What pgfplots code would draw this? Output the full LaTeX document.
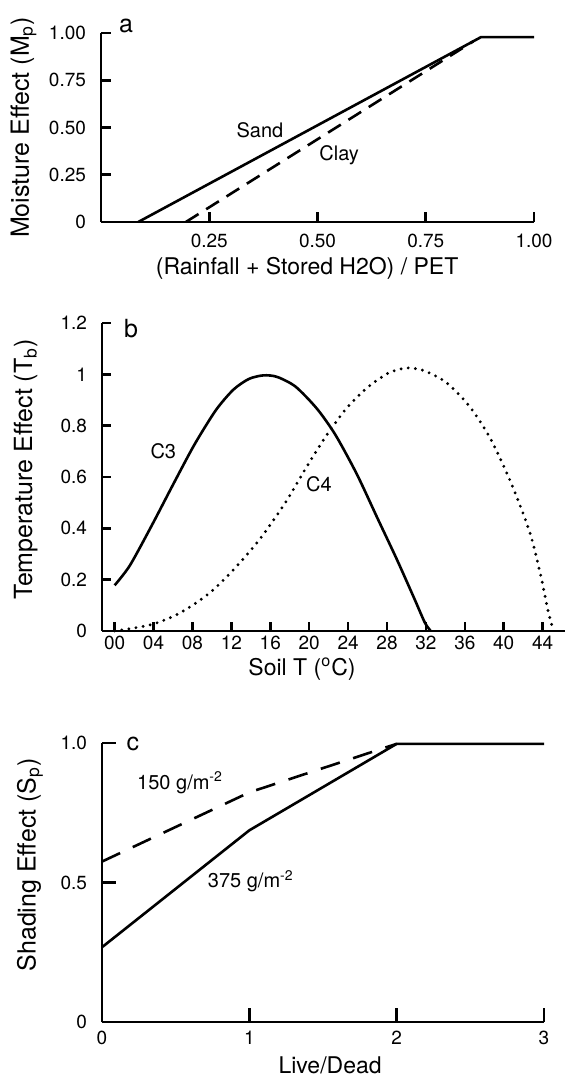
\documentclass[border=0pt]{standalone}
\usepackage{fontspec}
\setmainfont{TeX Gyre Heros}
\usepackage{pgfplots}
\pgfplotsset{compat=1.18}
\pgfplotsset{
  panel/.style={
    scale only axis,
    axis x line=bottom, axis y line=left,
    axis line style={-, line width=1.3pt},
    tick align=inside,
    tick style={black, line width=1.3pt},
    xtick pos=bottom, ytick pos=left,
    tick label style={font=\fontsize{9.5}{11}\selectfont},
    ylabel style={font=\fontsize{12.5}{14}\selectfont},
    xlabel style={font=\fontsize{11.5}{14}\selectfont, inner sep=0pt},
    yticklabel style={xshift=-4pt},
    clip=false,
    anchor=south west,
  },
}
\tikzset{
  lbl/.style={font=\fontsize{10}{12}\selectfont},
  plbl/.style={font=\fontsize{12.5}{14}\selectfont},
}
\begin{document}
\begin{tikzpicture}
\useasboundingbox (0,0) rectangle (282.5pt,538pt);
% ---------------- panel a
\begin{axis}[panel,
  at={(50.5pt,427pt)}, width=216.5pt, height=94.5pt,
  xmin=0, xmax=1, ymin=0, ymax=1,
  major tick length=5pt,
  xtick={0.25,0.5,0.75,1}, xticklabels={0.25,0.50,0.75,1.00},
  ytick={0,0.25,0.5,0.75,1}, yticklabels={0,0.25,0.50,0.75,1.00},
  xticklabel style={yshift=-2.3pt},
  xlabel={(Rainfall + Stored H2O) / PET},
  ylabel={Moisture Effect (M\textsubscript{p})},
  xlabel style={at={(axis description cs:0.476,0)}, anchor=center, yshift=-23pt},
  ylabel style={at={(axis description cs:-0.179,0.5)}, anchor=center},
]
\addplot[black, line width=1.3pt] coordinates {(0.086,0) (0.8775,0.978) (1.0,0.978)};
\addplot[black, line width=1.3pt, dash pattern=on 7.5pt off 4.5pt] coordinates {(0.196,0) (0.86,0.956)};
\node[plbl] at (axis cs:0.058,1.037) {a};
\node[lbl] at (axis cs:0.367,0.483) {Sand};
\node[lbl] at (axis cs:0.55,0.355) {Clay};
\end{axis}
% ---------------- panel b
\begin{axis}[panel,
  at={(51pt,222.5pt)}, width=231.5pt, height=154pt,
  xmin=-1.3, xmax=46.3, ymin=0, ymax=1.2,
  major tick length=4.5pt,
  xtick={0,4,8,12,16,20,24,28,32,36,40,44},
  xticklabels={00,04,08,12,16,20,24,28,32,36,40,44},
  xticklabel style={inner sep=2.5pt},
  ytick={0,0.2,0.4,0.6,0.8,1,1.2}, yticklabels={0,0.2,0.4,0.6,0.8,1,1.2},
  xlabel={Soil T (\textsuperscript{o}C)},
  ylabel={Temperature Effect (T\textsubscript{b})},
  xlabel style={at={(axis description cs:0.432,0)}, anchor=center, yshift=-19pt},
  ylabel style={at={(axis description cs:-0.165,0.524)}, anchor=center},
]
\addplot[black, line width=1.3pt, smooth, tension=0.45] coordinates {
(0,0.178) (1.56,0.255) (3.8,0.41) (6.0,0.57) (8.2,0.726) (10.4,0.86) (12.2,0.94) (13.8,0.982)
(15.3,0.996) (16.7,0.99) (18.6,0.952) (20.8,0.866) (22.7,0.764) (24.9,0.611)
(27.1,0.433) (29.0,0.28) (30.8,0.127) (31.9,0.032) (32.5,0)};
\addplot[black, line width=1.6pt, line cap=round, dash pattern=on 0pt off 3.6pt, smooth, tension=0.45] coordinates {
(0,0) (3.8,0.025) (6.7,0.07) (9.7,0.146) (12.3,0.242) (14.9,0.357) (17.5,0.497)
(19.7,0.637) (21.6,0.752) (23.8,0.866) (26.0,0.949) (28.2,1.006) (30.1,1.025)
(31.9,1.013) (34.1,0.968) (36.4,0.879) (38.6,0.752) (40.8,0.573) (42.7,0.382)
(43.8,0.217) (44.5,0.089) (45.1,0)};
\node[plbl] at (axis cs:1.68,1.18) {b};
\node[lbl] at (axis cs:5.0,0.699) {C3};
\node[lbl] at (axis cs:21.0,0.571) {C4};
\end{axis}
% ---------------- panel c
\begin{axis}[panel,
  at={(51pt,27pt)}, width=221pt, height=139.5pt,
  xmin=0, xmax=3, ymin=0, ymax=1,
  major tick length=7pt,
  xtick={0,1,2,3}, xticklabels={0,1,2,3},
  ytick={0,0.5,1}, yticklabels={0,0.5,1.0},
  xticklabel style={yshift=-1pt},
  xlabel={Live/Dead},
  ylabel={Shading Effect (S\textsubscript{p})},
  xlabel style={at={(axis description cs:0.516,0)}, anchor=center, yshift=-21.5pt},
  ylabel style={at={(axis description cs:-0.163,0.563)}, anchor=center},
]
\addplot[black, line width=1.3pt] coordinates {(0,0.268) (1,0.687) (2,0.997) (3,0.997)};
\addplot[black, line width=1.3pt, dash pattern=on 10pt off 7pt] coordinates {(0,0.575) (1,0.823) (2,0.997)};
\node[plbl] at (axis cs:0.21,0.997) {c};
\node[lbl] at (axis cs:0.53,0.858) {150 g/m\textsuperscript{-2}};
\node[lbl] at (axis cs:1.01,0.504) {375 g/m\textsuperscript{-2}};
\end{axis}
\end{tikzpicture}
\end{document}
